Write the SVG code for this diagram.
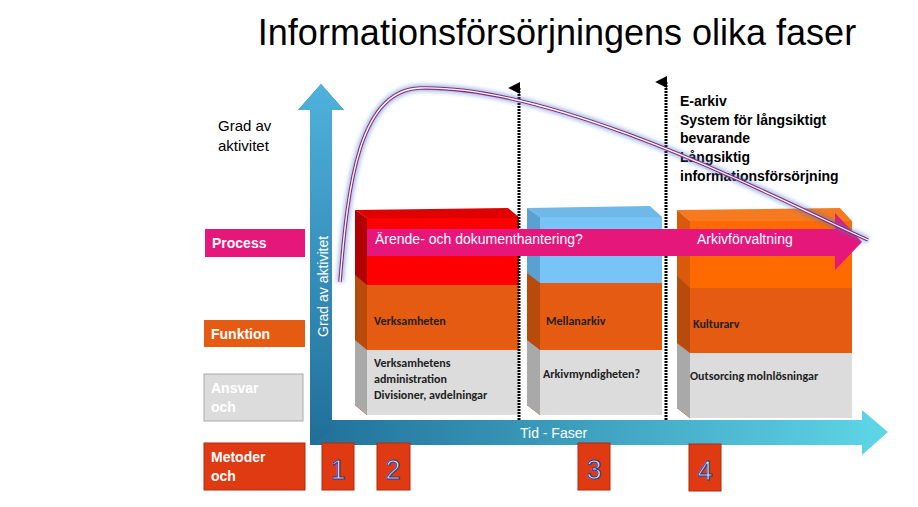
<svg xmlns="http://www.w3.org/2000/svg" width="918" height="507" viewBox="0 0 918 507">
<defs>
<linearGradient id="gv" x1="0" y1="1" x2="0" y2="0"><stop offset="0" stop-color="#1f6e98"/><stop offset="1" stop-color="#4fb2dc"/></linearGradient>
<linearGradient id="gh" x1="0" y1="0" x2="1" y2="0"><stop offset="0" stop-color="#1f6e98"/><stop offset="1" stop-color="#5fd6e8"/></linearGradient>
<marker id="ah" viewBox="0 0 10 10" refX="5" refY="9" markerWidth="4" markerHeight="4" orient="auto-start-reverse"><path d="M0,10 L5,0 L10,10z" fill="#000"/></marker>
<filter id="glow"><feGaussianBlur stdDeviation="2"/></filter>
</defs>
<style>
text{font-family:"Liberation Sans",Arial,sans-serif}
.lbl{fill:#fff;font-weight:bold;font-size:14px}
.blk{font-family:Carlito,"Liberation Sans",sans-serif;font-weight:bold;font-size:12px;fill:#222}
.num{fill:#dfe8ff;font-size:27px;stroke:#2a3f8f;stroke-width:1}
.grey{fill:#dcdcdc}
.side{fill:#a9a9a9}
</style>
<rect width="918" height="507" fill="#fff"/>
<text x="557" y="45" font-size="36" text-anchor="middle" fill="#000">Informationsförsörjningens olika faser</text>
<text x="218" y="131" font-size="15">Grad av</text>
<text x="218" y="151" font-size="15">aktivitet</text>
<g font-weight="bold" font-size="14" fill="#000">
<text x="680" y="106">E-arkiv</text>
<text x="680" y="125">System för långsiktigt</text>
<text x="680" y="143">bevarande</text>
<text x="680" y="162">Långsiktig</text>
<text x="680" y="181">informationsförsörjning</text>
</g>
<g id="axes">
<path d="M310,110 L298,110 L321,84 L344,110 L332,110 L332,420 L862,420 L862,410 L888,432 L862,455 L862,445 L310,445z" fill="url(#gh)"/>
<path d="M310,110 L298,110 L321,84 L344,110 L332,110 L332,430 L310,445z" fill="url(#gv)"/>
<text transform="translate(328,337) rotate(-90)" font-size="14" fill="#fff">Grad av aktivitet</text>
<text x="520" y="438" font-size="14" fill="#fff">Tid - Faser</text>
</g>
<g id="block1">
<polygon points="355,210 508,208 520,218 367,218" fill="#e00000"/>
<polygon points="355,210 367,218 367,415 355,405" fill="#b00000"/>
<polygon points="355,275 367,285 367,415 355,405" fill="#b84a0c"/>
<polygon points="355,340 367,350 367,415 355,405" class="side"/>
<rect x="367" y="218" width="152" height="67" fill="#ff0000"/>
<rect x="367" y="285" width="152" height="65" fill="#e55b12"/>
<rect x="367" y="350" width="152" height="65" class="grey"/>
<text x="374" y="325" class="blk">Verksamheten</text>
<text x="374" y="367" class="blk">Verksamhetens</text>
<text x="374" y="383" class="blk">administration</text>
<text x="374" y="399" class="blk">Divisioner, avdelningar</text>
</g>
<g id="block2">
<polygon points="527,208 650,206 662,217 540,217" fill="#6fb8e8"/>
<polygon points="527,208 540,217 540,415 527,405" fill="#5aa0d0"/>
<polygon points="527,273 540,283 540,415 527,405" fill="#b84a0c"/>
<polygon points="527,340 540,350 540,415 527,405" class="side"/>
<rect x="540" y="217" width="122" height="66" fill="#78c4f6"/>
<rect x="540" y="283" width="122" height="67" fill="#e55b12"/>
<rect x="540" y="350" width="122" height="65" class="grey"/>
<text x="546" y="325" class="blk">Mellanarkiv</text>
<text x="543" y="378" class="blk">Arkivmyndigheten?</text>
</g>
<g id="block3">
<polygon points="677,210 840,208 852,221 690,221" fill="#f57a20"/>
<polygon points="677,210 690,221 690,418 677,408" fill="#d85a0a"/>
<polygon points="677,276 690,288 690,418 677,408" fill="#b84a0c"/>
<polygon points="677,343 690,353 690,418 677,408" class="side"/>
<rect x="690" y="221" width="162" height="67" fill="#ff6a00"/>
<rect x="690" y="288" width="162" height="65" fill="#e55b12"/>
<rect x="690" y="353" width="162" height="65" class="grey"/>
<text x="693" y="328" class="blk">Kulturarv</text>
<text x="690" y="380" class="blk">Outsorcing molnlösningar</text>
</g>
<g id="connectors">
<line x1="519" y1="420" x2="519" y2="88" stroke="#000" stroke-width="3" stroke-dasharray="2,1" marker-end="url(#ah)"/>
<line x1="666" y1="420" x2="666" y2="82" stroke="#000" stroke-width="3" stroke-dasharray="2,1" marker-end="url(#ah)"/>
<path d="M367,229 L835,229 L835,213 L862,242 L835,270 L835,256 L367,256z" fill="#e5177b"/>
<text x="375" y="244" font-size="14" fill="#fff">Ärende- och dokumenthantering?</text>
<text x="697" y="244" font-size="14" fill="#fff">Arkivförvaltning</text>
<path d="M340,282 C348,180 360,90 420,88 C560,85 780,200 868,240" fill="none" stroke="#4a7ac8" stroke-width="7" opacity="0.5" filter="url(#glow)"/>
<path d="M340,282 C348,180 360,90 420,88 C560,85 780,200 868,240" fill="none" stroke="#8a2a80" stroke-width="3.5"/>
<path d="M340,282 C348,180 360,90 420,88 C560,85 780,200 868,240" fill="none" stroke="#fff" stroke-width="1.3"/>
</g>
<g id="lbl-process"><rect x="205" y="229" width="100" height="28" fill="#e5177b"/><text x="212" y="248" class="lbl">Process</text></g>
<g id="lbl-funktion"><rect x="204" y="320" width="101" height="27" fill="#e55b12"/><text x="211" y="339" class="lbl">Funktion</text></g>
<g id="lbl-ansvar"><rect x="204" y="374" width="99" height="47" fill="#dcdcdc" stroke="#aaa"/><text x="211" y="393" class="lbl">Ansvar</text><text x="211" y="412" class="lbl">och</text></g>
<g id="lbl-metoder"><rect x="204" y="443" width="101" height="47" fill="#e03a12" stroke="#b02a0a"/><text x="211" y="462" class="lbl">Metoder</text><text x="211" y="481" class="lbl">och</text></g>
<g id="n1"><rect x="322" y="443" width="32" height="47" fill="#e03a12" stroke="#b02a0a"/><text x="338" y="479" class="num" text-anchor="middle">1</text></g>
<g id="n2"><rect x="377" y="443" width="33" height="47" fill="#e03a12" stroke="#b02a0a"/><text x="393" y="479" class="num" text-anchor="middle">2</text></g>
<g id="n3"><rect x="578" y="443" width="32" height="47" fill="#e03a12" stroke="#b02a0a"/><text x="594" y="479" class="num" text-anchor="middle">3</text></g>
<g id="n4"><rect x="689" y="444" width="32" height="47" fill="#e03a12" stroke="#b02a0a"/><text x="705" y="480" class="num" text-anchor="middle">4</text></g>
</svg>
